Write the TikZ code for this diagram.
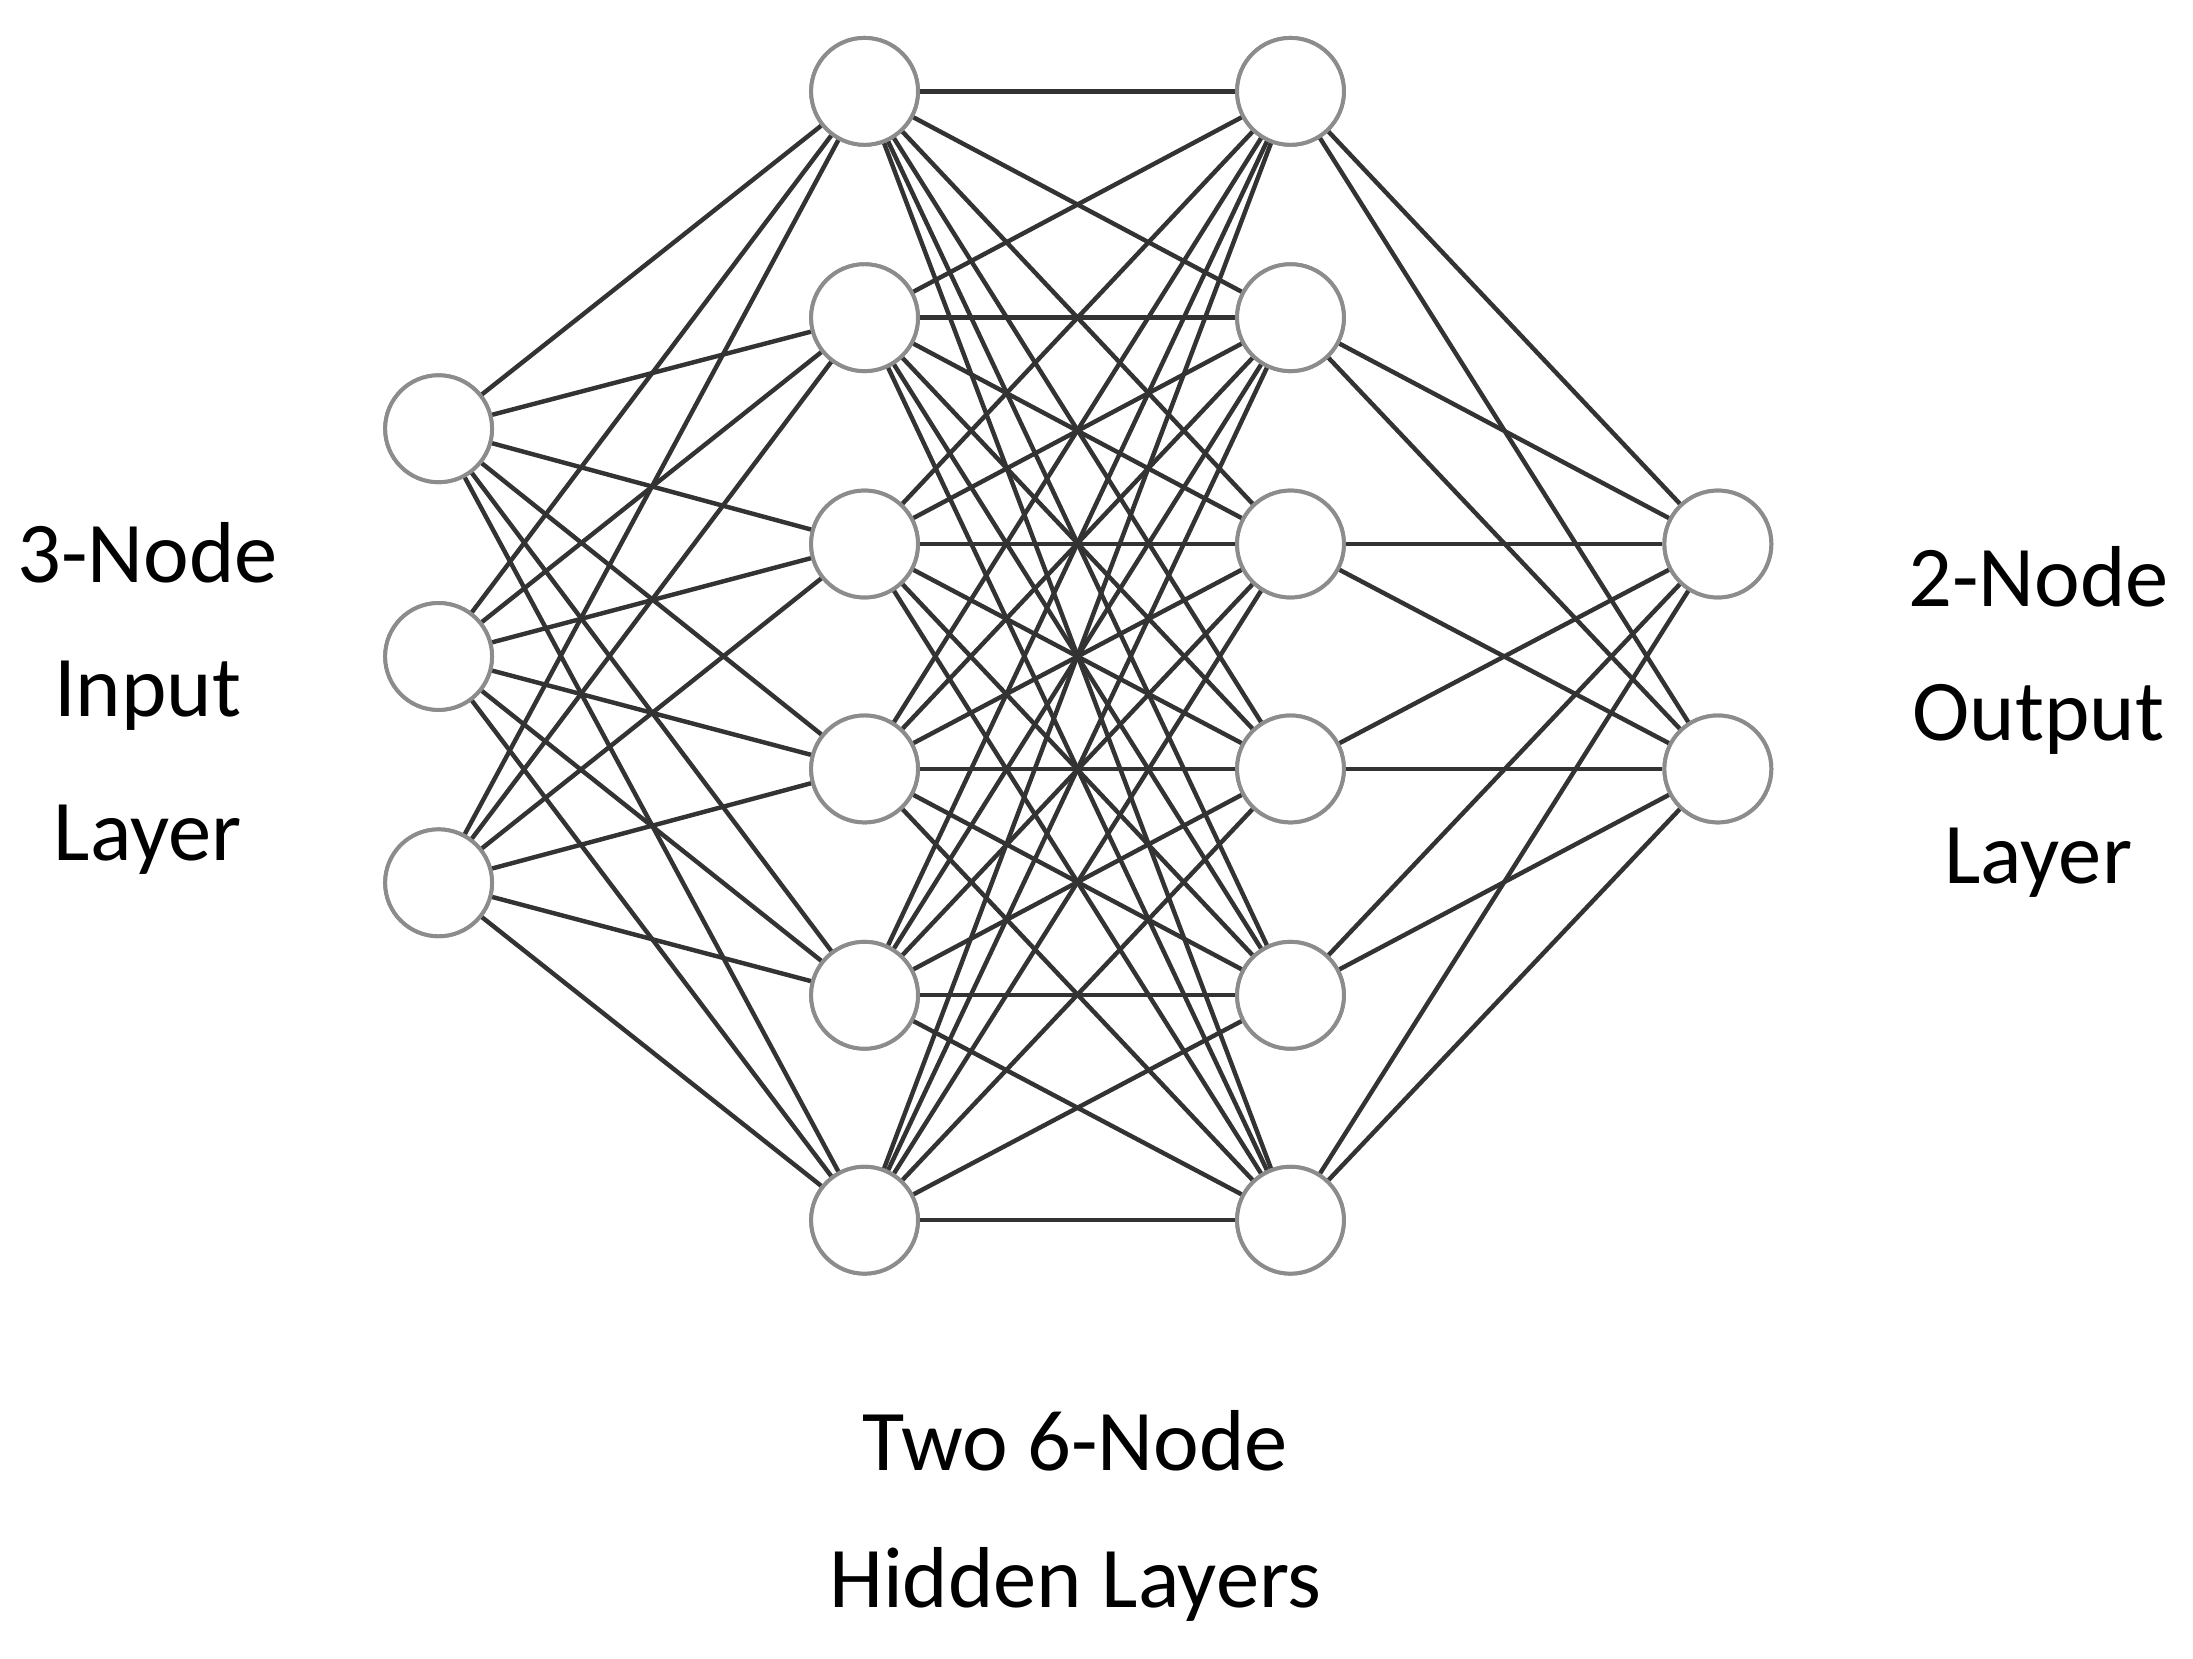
\documentclass[tikz,border=0pt]{standalone}
\usepackage{fontspec}
\setmainfont{Carlito}
\begin{document}
\begin{tikzpicture}[x=0.01cm,y=-0.01cm,
  neuron/.style={circle,draw=black!45,line width=0.8pt,fill=white,minimum size=0.76cm,inner sep=0pt},
  edge/.style={draw=black!80,line width=0.9pt},
  lbl/.style={font=\fontsize{17.5}{20}\selectfont,align=center}]
\useasboundingbox (0,0) rectangle (1560,1180);
\foreach \i/\y in {1/305,2/467,3/628} \node[neuron] (I\i) at (312,\y) {};
\foreach \i/\y in {1/65,2/226,3/387,4/547,5/708,6/868} {
  \node[neuron] (A\i) at (615,\y) {};
  \node[neuron] (B\i) at (918,\y) {};
}
\foreach \i/\y in {1/387,2/547} \node[neuron] (O\i) at (1222,\y) {};
\begin{scope}[on background layer/.style={}]
\foreach \i in {1,2,3} \foreach \j in {1,...,6} \draw[edge] (I\i) -- (A\j);
\foreach \i in {1,...,6} \foreach \j in {1,...,6} \draw[edge] (A\i) -- (B\j);
\foreach \i in {1,...,6} \foreach \j in {1,2} \draw[edge] (B\i) -- (O\j);
\end{scope}
\foreach \i/\y in {1/305,2/467,3/628} \node[neuron] at (312,\y) {};
\foreach \i/\y in {1/65,2/226,3/387,4/547,5/708,6/868} {
  \node[neuron] at (615,\y) {};
  \node[neuron] at (918,\y) {};
}
\foreach \i/\y in {1/387,2/547} \node[neuron] at (1222,\y) {};
\node[lbl] (t1) at (105,393) {3-Node};
\node[lbl] (t2) at (105,495) {Input};
\node[lbl] (t3) at (105,597) {Layer};
\node[lbl] (t4) at (1450,410) {2-Node};
\node[lbl] (t5) at (1450,512) {Output};
\node[lbl] (t6) at (1450,614) {Layer};
\node[lbl] (t7) at (765,1025) {Two 6-Node};
\node[lbl] (t8) at (765,1127) {Hidden Layers};
\end{tikzpicture}
\end{document}
